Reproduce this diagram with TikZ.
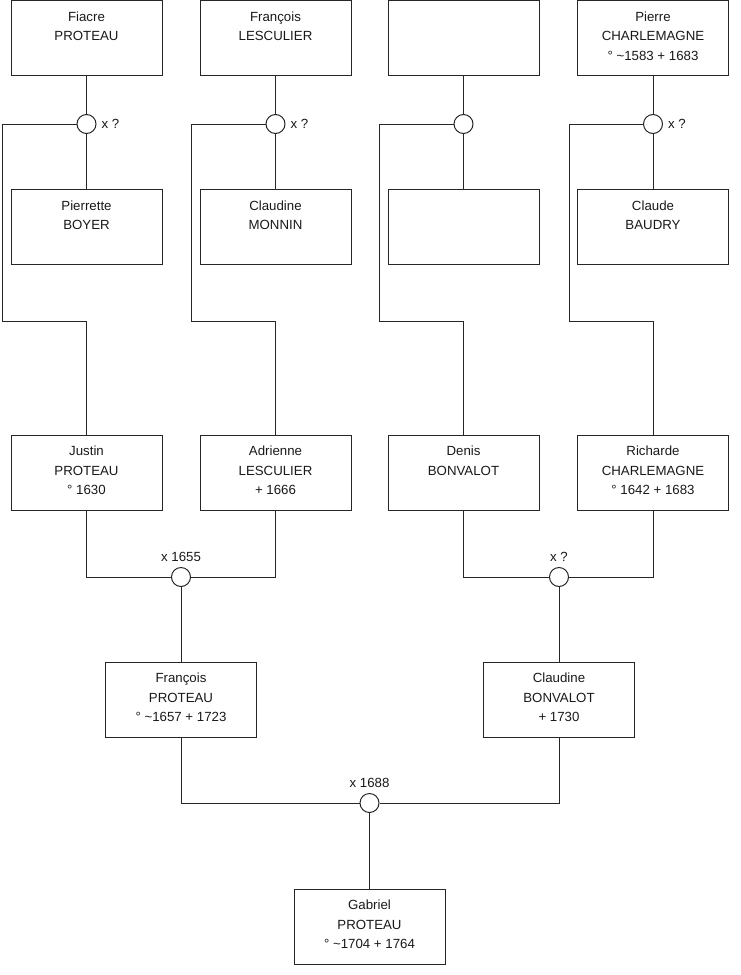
\documentclass[tikz,border=0pt]{standalone}
\usepackage{fontspec}
\setmainfont{Liberation Sans}
\begin{document}
\begin{tikzpicture}[x=0.75pt,y=-0.75pt,
  line width=0.75pt,
  person/.style={draw=black!85, minimum width=113.25pt, minimum height=56.25pt, inner sep=0pt},
  txt/.style={anchor=north, inner sep=0pt, align=center, text=black!90, font=\fontsize{9.95}{14.6}\selectfont},
  union/.style={circle, draw=black!85, fill=white, minimum size=14.25pt, inner sep=0pt},
  lbl/.style={inner sep=0pt, text=black!90, font=\fontsize{9.95}{11}\selectfont},
  link/.style={draw=black!85}]
\useasboundingbox (0,0) rectangle (740,975);
% row 1
\node[person] (b1) at (86.5,38) {};
\node[person] (b2) at (275.5,38) {};
\node[person] (b3) at (463.5,38) {};
\node[person] (b4) at (653,38) {};
\node[txt] (t1) at (b1.north) {\rule{0pt}{15.5pt}Fiacre\\PROTEAU};
\node[txt] (t2) at (b2.north) {\rule{0pt}{15.5pt}François\\LESCULIER};
\node[txt] (t4) at (b4.north) {\rule{0pt}{15.5pt}Pierre\\CHARLEMAGNE\\° \textasciitilde1583 + 1683};
% row 2
\node[person] (m1) at (86.5,227) {};
\node[person] (m2) at (275.5,227) {};
\node[person] (m3) at (463.5,227) {};
\node[person] (m4) at (653,227) {};
\node[txt] (s1) at (m1.north) {\rule{0pt}{15.5pt}Pierrette\\BOYER};
\node[txt] (s2) at (m2.north) {\rule{0pt}{15.5pt}Claudine\\MONNIN};
\node[txt] (s4) at (m4.north) {\rule{0pt}{15.5pt}Claude\\BAUDRY};
% unions row 1
\node[union] (u1) at (86.5,124) {};
\node[union] (u2) at (275.5,124) {};
\node[union] (u3) at (463.5,124) {};
\node[union] (u4) at (653,124) {};
\node[lbl, anchor=west, xshift=3.5pt] (l1) at (u1.east) {x ?};
\node[lbl, anchor=west, xshift=3.5pt] (l2) at (u2.east) {x ?};
\node[lbl, anchor=west, xshift=3.5pt] (l4) at (u4.east) {x ?};
% row 3
\node[person] (c1) at (86.5,472.5) {};
\node[person] (c2) at (275.5,472.5) {};
\node[person] (c3) at (463.5,472.5) {};
\node[person] (c4) at (653,472.5) {};
\node[txt] (r1) at (c1.north) {\rule{0pt}{15.5pt}Justin\\PROTEAU\\° 1630};
\node[txt] (r2) at (c2.north) {\rule{0pt}{15.5pt}Adrienne\\LESCULIER\\+ 1666};
\node[txt] (r3) at (c3.north) {\rule{0pt}{15.5pt}Denis\\BONVALOT};
\node[txt] (r4) at (c4.north) {\rule{0pt}{15.5pt}Richarde\\CHARLEMAGNE\\° 1642 + 1683};
% turning points
\coordinate (k1) at (2,321);
\coordinate (k2) at (191,321);
\coordinate (k3) at (379,321);
\coordinate (k4) at (569,321);
% unions row 3
\node[union] (v1) at (181,577) {};
\node[union] (v2) at (559,577) {};
\node[lbl, anchor=south, yshift=4pt] (lv1) at (v1.north) {x 1655};
\node[lbl, anchor=south, yshift=4pt] (lv2) at (v2.north) {x ?};
% row 4
\node[person] (d1) at (181,699.5) {};
\node[person] (d2) at (559,699.5) {};
\node[txt] (q1) at (d1.north) {\rule{0pt}{15.5pt}François\\PROTEAU\\° \textasciitilde1657 + 1723};
\node[txt] (q2) at (d2.north) {\rule{0pt}{15.5pt}Claudine\\BONVALOT\\+ 1730};
\node[union] (w) at (369.5,803) {};
\node[lbl, anchor=south, yshift=4pt] (lw) at (w.north) {x 1688};
\node[person] (g) at (369.5,926.5) {};
\node[txt] (tg) at (g.north) {\rule{0pt}{15.5pt}Gabriel\\PROTEAU\\° \textasciitilde1704 + 1764};
% connectors row 1-2
\foreach \i in {1,2,3,4} {
  \draw[link] (b\i.south) -- (u\i.north);
  \draw[link] (u\i.south) -- (m\i.north);
  \draw[link] (u\i.west) -| (k\i) -| (c\i.north);
}
% row 3 unions
\draw[link] (c1.south) |- (v1.west);
\draw[link] (c2.south) |- (v1.east);
\draw[link] (v1.south) -- (d1.north);
\draw[link] (c3.south) |- (v2.west);
\draw[link] (c4.south) |- (v2.east);
\draw[link] (v2.south) -- (d2.north);
% row 4 union
\draw[link] (d1.south) |- (w.west);
\draw[link] (d2.south) |- (w.east);
\draw[link] (w.south) -- (g.north);
\end{tikzpicture}
\end{document}
